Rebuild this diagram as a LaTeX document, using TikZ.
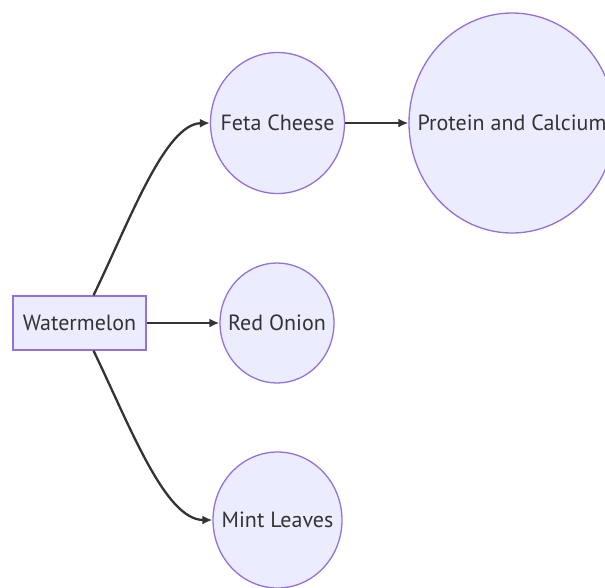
\documentclass[tikz,border=0pt]{standalone}
\usepackage{fontspec}
\setmainfont{PT Sans}
\usetikzlibrary{arrows.meta,shapes.geometric}
\definecolor{nodefill}{HTML}{ECECFF}
\definecolor{nodeline}{HTML}{9370DB}
\definecolor{txt}{HTML}{333333}
\tikzset{
  lbl/.style={text=txt, font=\fontsize{22}{26}\selectfont, inner sep=0pt},
  base/.style={draw=nodeline, fill=nodefill, line width=1.3pt, inner sep=0pt},
  boxnode/.style={base, lbl, rectangle, minimum width=133pt, minimum height=54pt},
  blob/.style={base, ellipse},
  conn/.style={draw=txt, line width=2.3pt, -{Latex[length=10pt,width=9pt]}},
}
\begin{document}
\begin{tikzpicture}[x=1pt,y=-1pt]
\useasboundingbox (0,0) rectangle (605,587);
\node[boxnode] (wm) at (79.5,323) {Watermelon};
\node[blob, minimum width=134pt, minimum height=141pt, label={[lbl]center:Feta Cheese}] (feta) at (277.5,123) {};
\node[blob, minimum width=206pt, minimum height=220pt, label={[lbl]center:Protein and Calcium}] (prot) at (512,123) {};
\node[blob, minimum width=114pt, minimum height=120pt, label={[lbl]center:Red Onion}] (onion) at (277,323) {};
\node[blob, minimum width=129pt, minimum height=136pt, label={[lbl]center:Mint Leaves}] (mint) at (277.5,520) {};
\draw[conn] ([xshift=14pt]wm.north) .. controls (130,220) and (165,124) .. (feta.west);
\draw[conn] (wm.east) -- (onion.west);
\draw[conn] ([xshift=14pt]wm.south) .. controls (130,426) and (165,520) .. (mint.west);
\draw[conn] (feta.east) -- (prot.west);
\end{tikzpicture}
\end{document}
